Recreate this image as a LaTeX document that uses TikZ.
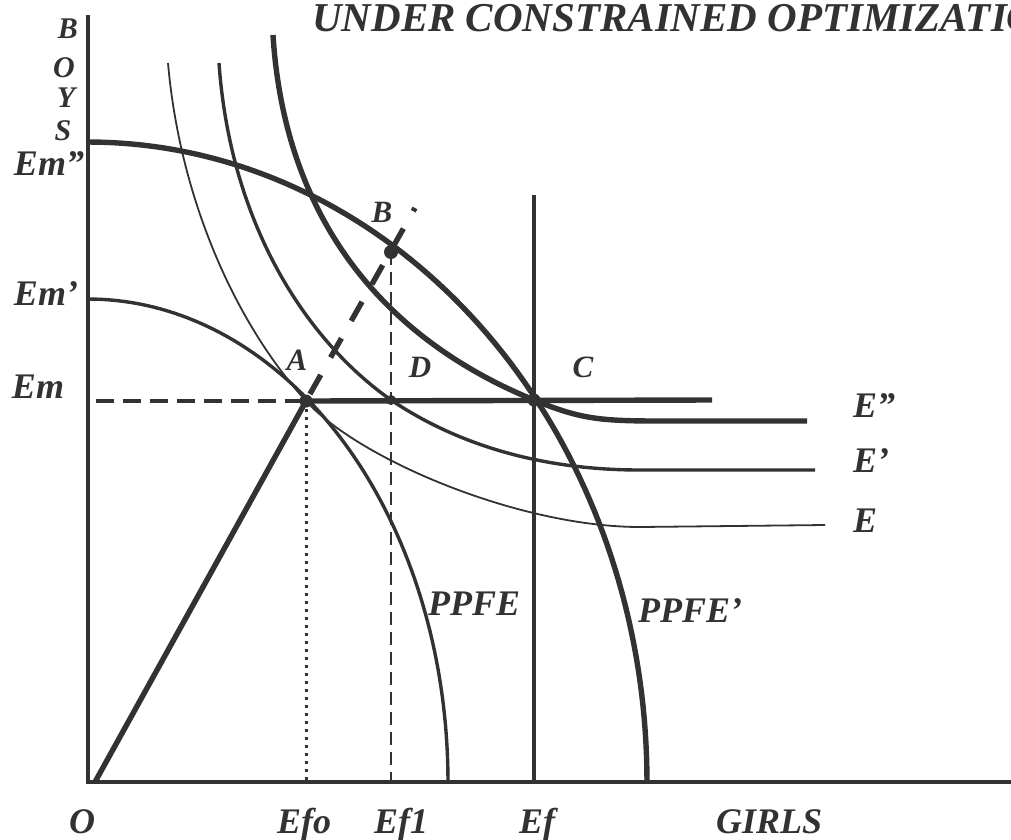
\documentclass[tikz,border=0pt]{standalone}
\usepackage{fontspec}
\setmainfont{Liberation Serif}
\definecolor{ink}{RGB}{50,50,50}
\begin{document}
\begin{tikzpicture}[x=1pt,y=-1pt,
  axis line/.style={line width=3.4pt, draw=ink},
  heavy/.style={line width=5.4pt, draw=ink},
  medium/.style={line width=3.4pt, draw=ink},
  light/.style={line width=1.8pt, draw=ink},
  lbl/.style={font=\fontsize{36}{40}\selectfont\bfseries\itshape, text=ink, inner sep=0pt},
  axlbl/.style={font=\fontsize{30}{34}\selectfont\bfseries\itshape, text=ink, inner sep=0pt},
  ptlbl/.style={font=\fontsize{31}{36}\selectfont\bfseries\itshape, text=ink, inner sep=0pt},
  ptdot/.style={fill=ink},
]
\useasboundingbox (0,0) rectangle (1011,839);
\fill[white] (0,0) rectangle (1011,839);

% key points
\coordinate (Otop) at (88,15);
\coordinate (O) at (88,782);
\coordinate (Xend) at (1011,782);
\coordinate (A) at (306,401);
\coordinate (B) at (391,252);
\coordinate (C) at (534,400);
\coordinate (D) at (391,400);
\coordinate (Ostart) at (95,782);
\coordinate (Rayend) at (415,208);
\coordinate (EmL) at (96,401);
\coordinate (Efo) at (306,782);
\coordinate (Efone) at (391,782);
\coordinate (Eftop) at (534,195);
\coordinate (Efbot) at (534,782);
\coordinate (ACend) at (712,400);

% axes
\draw[axis line] (Otop) -- (O) -- (Xend);

% production possibility frontiers
\draw[medium] plot[domain=0:90, samples=80] ({88+360*sin(\x)}, {782-483*cos(\x)});
\draw[heavy] plot[domain=0:90, samples=80] ({88+559*sin(\x)}, {782-640*cos(\x)});

% indifference curves
\draw[light] (168,63) .. controls (180,200) and (236,324) .. (A)
  .. controls (360,460) and (520,527) .. (640,527) -- (825,525);
\draw[medium] (219,63) .. controls (230,220) and (303,338) .. (D)
  .. controls (440,433) and (520,470) .. (640,470) -- (815,470);
\draw[heavy] (273,35) .. controls (284,210) and (375,335) .. (C)
  .. controls (580,419) and (600,421) .. (660,421) -- (807,421);

% guide lines
\draw[ink, line width=3.2pt, dash pattern=on 18pt off 9pt] (EmL) -- (A);
\draw[ink, line width=3pt, dash pattern=on 3pt off 5pt] (A) -- (Efo);
\draw[ink, line width=2.6pt, dash pattern=on 13pt off 7pt] (B) -- (Efone);
\draw[medium] (Eftop) -- (Efbot);
\draw[heavy] (A) -- (ACend);
\draw[heavy] (Ostart) -- (A);
\draw[heavy, dash pattern=on 22pt off 20pt, dash phase=-8pt] (A) -- (Rayend);

% points
\fill[ptdot] (A) circle[radius=6.5];
\fill[ptdot] (B) circle[radius=7];
\fill[ptdot] (C) circle[radius=6.5];
\fill[ptdot] (D) circle[radius=5];

% title
\node[lbl, anchor=base west, font=\fontsize{41}{46}\selectfont\bfseries\itshape] (title) at (312,31) {UNDER CONSTRAINED OPTIMIZATION};

% y-axis labels
\node[axlbl, anchor=base] (yB) at (68,38) {B};
\node[axlbl, anchor=base] (yO) at (64,77) {O};
\node[axlbl, anchor=base] (yY) at (66,107) {Y};
\node[axlbl, anchor=base] (yS) at (63,140) {S};
\node[lbl, anchor=base] (emtwo) at (49,175) {Em''};
\node[lbl, anchor=base] (emone) at (46,305) {Em'};
\node[lbl, anchor=base] (em) at (38,398) {Em};

% point labels
\node[ptlbl, anchor=base] (lA) at (297,370) {A};
\node[ptlbl, anchor=base] (lB) at (382,222) {B};
\node[ptlbl, anchor=base] (lC) at (583,377) {C};
\node[ptlbl, anchor=base] (lD) at (420,377) {D};

% curve labels
\node[lbl, anchor=base west] (lEtwo) at (853,417) {E''};
\node[lbl, anchor=base west] (lEone) at (853,472) {E'};
\node[lbl, anchor=base west] (lE) at (853,532) {E};
\node[lbl, anchor=base west] (lppfe) at (428,615) {PPFE};
\node[lbl, anchor=base west] (lppfeone) at (638,622) {PPFE'};

% x-axis labels
\node[lbl, anchor=base] (xO) at (82,833) {O};
\node[lbl, anchor=base west] (xEfo) at (277,833) {Efo};
\node[lbl, anchor=base west] (xEfone) at (374,833) {Ef1};
\node[lbl, anchor=base west] (xEf) at (519,833) {Ef};
\node[lbl, anchor=base west] (xgirls) at (716,833) {GIRLS};
\end{tikzpicture}
\end{document}
